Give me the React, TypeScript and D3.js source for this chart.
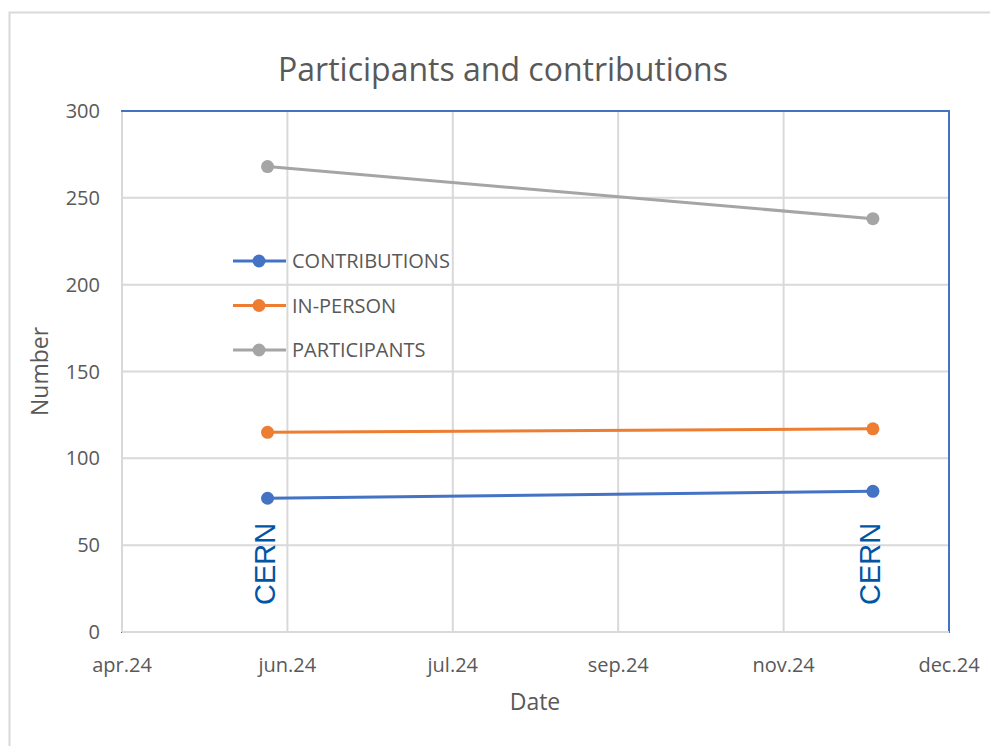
import * as d3 from 'd3';

const seriesNames = ['CONTRIBUTIONS', 'IN-PERSON', 'PARTICIPANTS'];
const seriesColors = ['#4472C4', '#ED7D31', '#A5A5A5'];
const eventDates = ['2024-05-31', '2024-11-30'];
const eventLabels = ['CERN', 'CERN'];
const contributions = [77, 81];
const inPerson = [115, 117];
const participants = [268, 238];
const xTickDates = ['2024-04-17', '2024-06-06', '2024-07-26', '2024-09-14', '2024-11-03', '2024-12-23'];
const xTickLabels = ['apr.24', 'jun.24', 'jul.24', 'sep.24', 'nov.24', 'dec.24'];
const yTicks = [0, 50, 100, 150, 200, 250, 300];

const W = 990;
const H = 746;
const plot = { left: 122, right: 949, top: 111, bottom: 632 };
const font = '"Open Sans", "Noto Sans", sans-serif';
const textColor = '#595959';
const gridColor = '#d9d9d9';

const App = () => {
  const parse = d3.timeParse('%Y-%m-%d');
  const tickDates = xTickDates.map((d) => parse(d) as Date);
  const dates = eventDates.map((d) => parse(d) as Date);

  const x = d3
    .scaleTime()
    .domain([tickDates[0], tickDates[tickDates.length - 1]])
    .range([plot.left, plot.right]);
  const y = d3.scaleLinear().domain([0, 300]).range([plot.bottom, plot.top]);

  const allSeries = [contributions, inPerson, participants];
  const line = d3
    .line<number>()
    .x((_d, i) => x(dates[i]))
    .y((d) => y(d));

  // legend sits inside the plot, excel style
  const legendY = [261, 305.5, 350];

  return (
    <svg
      width={W}
      height={H}
      style={{ position: 'absolute', left: 0, top: 0, background: '#fff' }}
    >
      <rect x={9.5} y={12.5} width={W + 20} height={H + 20} fill="#fff" stroke={gridColor} strokeWidth={2} />

      <text
        x={503}
        y={81}
        textAnchor="middle"
        fontFamily={font}
        fontSize={32}
        fill={textColor}
      >
        Participants and contributions
      </text>

      {/* plot area border */}
      <rect
        x={plot.left}
        y={plot.top}
        width={plot.right - plot.left}
        height={plot.bottom - plot.top}
        fill="none"
        stroke="#4472C4"
        strokeWidth={2}
      />

      {/* gridlines */}
      {yTicks.slice(1, -1).map((t) => (
        <line key={'gy' + t} x1={plot.left} x2={plot.right - 1} y1={y(t)} y2={y(t)} stroke={gridColor} strokeWidth={2} />
      ))}
      {tickDates.slice(0, -1).map((d, i) => (
        <line key={'gx' + i} x1={x(d)} x2={x(d)} y1={plot.top + 1} y2={plot.bottom} stroke={gridColor} strokeWidth={2} />
      ))}
      <line x1={plot.left} x2={plot.right} y1={plot.bottom} y2={plot.bottom} stroke={gridColor} strokeWidth={2} />

      {/* y axis labels */}
      {yTicks.map((t) => (
        <text
          key={'ty' + t}
          x={100}
          y={y(t)}
          dy="0.35em"
          textAnchor="end"
          fontFamily={font}
          fontSize={20}
          fill={textColor}
        >
          {t}
        </text>
      ))}
      {tickDates.map((d, i) => (
        <text
          key={'tx' + i}
          x={x(d)}
          y={672}
          textAnchor="middle"
          fontFamily={font}
          fontSize={20}
          fill={textColor}
        >
          {xTickLabels[i]}
        </text>
      ))}

      <text x={535} y={710} textAnchor="middle" fontFamily={font} fontSize={23} fill={textColor}>
        Date
      </text>
      <text
        transform={`translate(48, ${(plot.top + plot.bottom) / 2}) rotate(-90)`}
        textAnchor="middle"
        fontFamily={font}
        fontSize={23}
        fill={textColor}
      >
        Number
      </text>

      {/* event labels */}
      {dates.map((d, i) => (
        <text
          key={'ev' + i}
          transform={`translate(${x(d) + 7}, 605) rotate(-90)`}
          fontFamily='"Liberation Sans", Arial, sans-serif'
          fontSize={29}
          fill="#0055A4"
        >
          {eventLabels[i]}
        </text>
      ))}

      {/* series */}
      {allSeries.map((s, k) => (
        <g key={'s' + k}>
          <path d={line(s) || ''} fill="none" stroke={seriesColors[k]} strokeWidth={3} />
          {s.map((v, i) => (
            <circle key={i} cx={x(dates[i])} cy={y(v)} r={6.5} fill={seriesColors[k]} />
          ))}
        </g>
      ))}

      {/* legend */}
      {seriesNames.map((name, k) => (
        <g key={'lg' + k}>
          <line x1={233} x2={286} y1={legendY[k]} y2={legendY[k]} stroke={seriesColors[k]} strokeWidth={3} />
          <circle cx={259} cy={legendY[k]} r={6.5} fill={seriesColors[k]} />
          <text
            x={292}
            y={legendY[k]}
            dy="0.35em"
            fontFamily={font}
            fontSize={20}
            fill={textColor}
          >
            {name}
          </text>
        </g>
      ))}
    </svg>
  );
};

export default App;
